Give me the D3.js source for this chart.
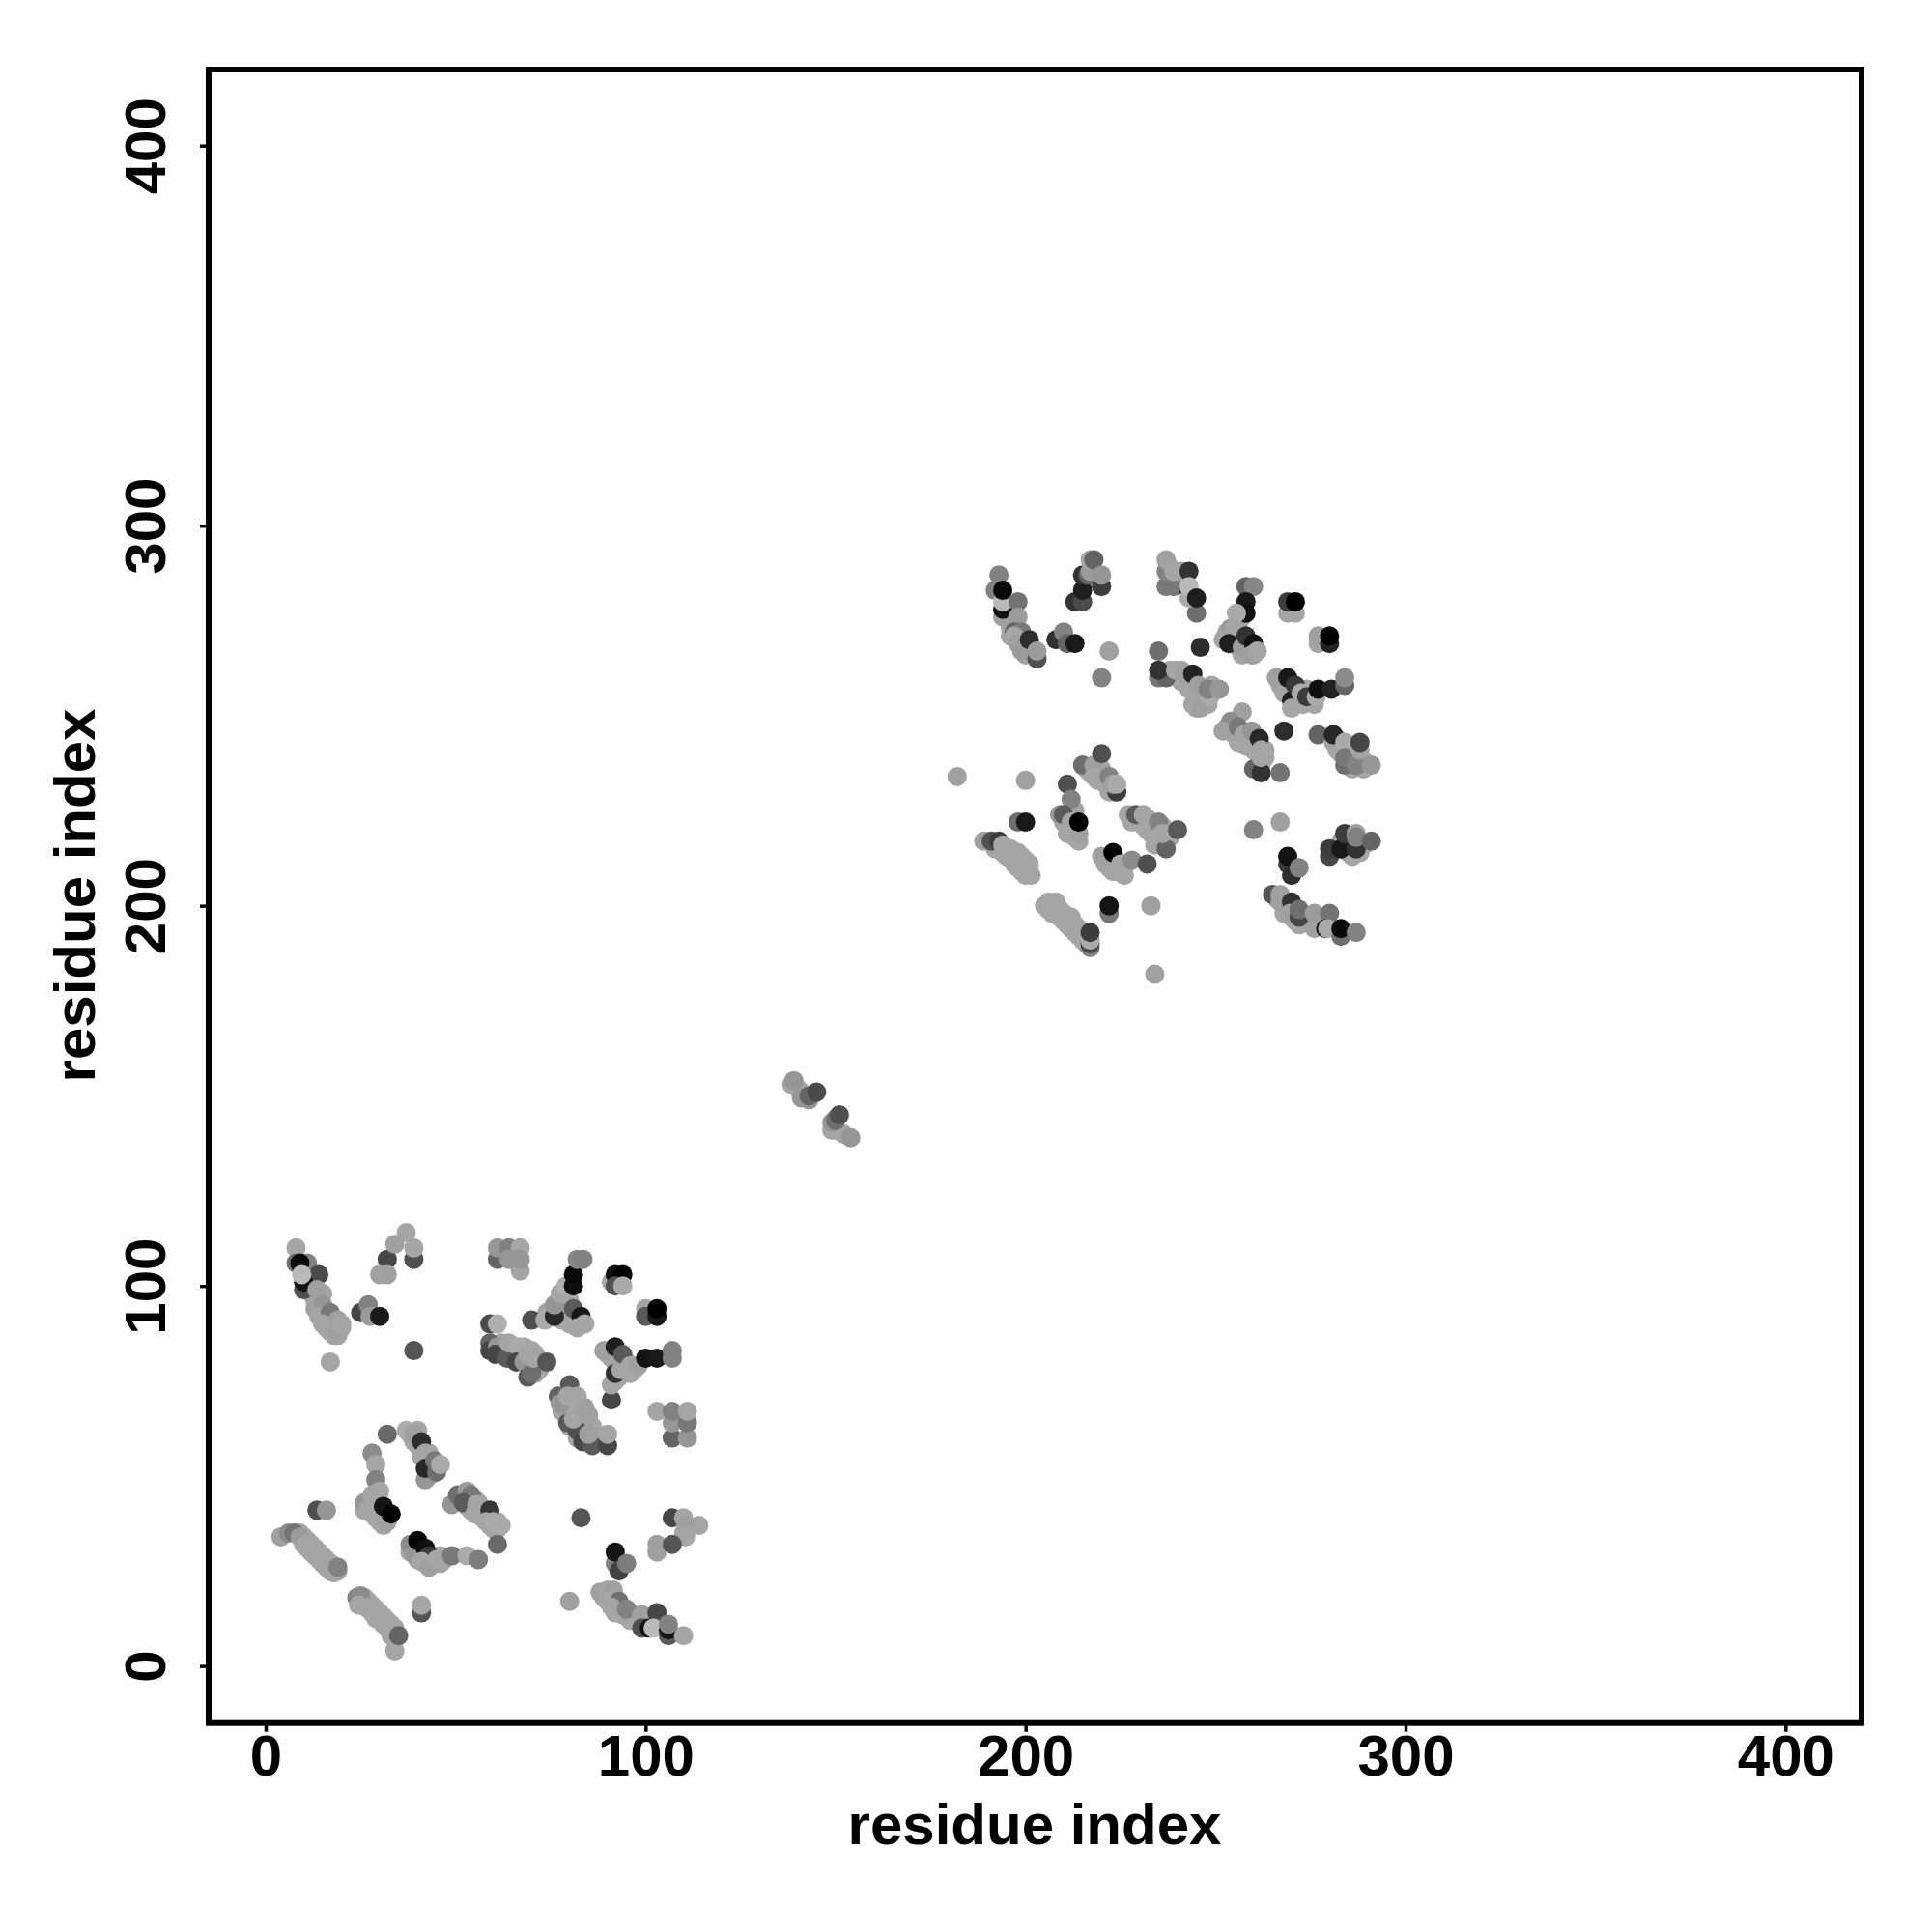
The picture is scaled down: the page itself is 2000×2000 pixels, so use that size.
<!DOCTYPE html>
<html><head><meta charset="utf-8">
<script src="https://cdnjs.cloudflare.com/ajax/libs/d3/7.8.5/d3.min.js"></script>
<style>html,body{margin:0;padding:0;background:#fff}svg{display:block}</style></head>
<body><svg id="c" width="2000" height="2000"></svg>
<script>
// rows: [residue i, residue j, grey level]
const domainX=[-15,420], domainY=[-15,420];
const tickValues=[0,100,200,300,400];
const axisLabel="residue index";
const bandGrey=165;
// pale contacts that merge into solid bands: [residue i, residue j]
const paleLow=[[9,35],[10,34],[11,33],[10,32],[12,32],[11,31],[13,31],[12,30],[14,30],[13,29],[15,29],[14,28],[16,28],[15,27],[17,27],[16,26],[18,26],[17,25],[18,24.5],
[25,17],[26,18],[26,16],[27,17],[27,15],[28,16],[28,14],[29,15],[29,13],[30,14],[30,12],[31,13],[31,11],[32,12],[32,10],[33,11],[33,8],[34,10],[34,7],
[26,41],[27,43],[28,43],[28,40],[29,41],[30,40],[30,38],[31,39],[31,37],[28,42],[29,44],
[38,61],[39,59],[40,60],[40,58],[41,57],[41,55],[43,56],[43,54],[42,54],[44,52],[43,50],[40,62],
[51,44],[52,45],[53,42],[54,43],[54,41],[55,44],[56,41],[56,43],[57,39],[57,41],[58,40],[59,39],[59,37],[60,36],[61,38],[61,36],
[38,30],[39,31],[40,29],[40,28],[41,30],[42,27],[42,29],[44,27],[44,29],[46,27],[46,29],[47,28],
[89,18],[90,18],[91,18],[92,18],[92,16],[92,14],[93,15],[94,15],[95,13],[96,14],[96,12],[97,13],[100,13],[100,12],[98,12],
[13,96],[14,94],[15,93],[16,92],[16,91],[17,90],[17,88],[18,89],[18,87],[19,87],[16,89],[20,89],[12,98],[14,97],[15,98],[12,99],
[111,36],[110,35],[141,151],[140,152],[150,141],[152,140],[149,141],[138.5,153]];
const paleMid=[[78,70],[79,68],[80,69],[78,67],[80,67],[81,68],[79,66],[81,66],[82,67],[80,63],[82,65],[83,66],[81,63],[83,64],[84,65],[82,60],[84,63],[85,64],[83,61],[85,62],[86,63],[84,60],[86,60],[85,59],[87,60],
[60,84],[62,85],[62,83],[63,84],[63,82],[65,84],[65,82],[66,83],[67,83],[67,81],[68,84],[68,82],[69,83],[69,79],[70,79],[71,79],[70,83],[71,82],[72,80],[72,78],[71,77],
[75,92],[74,93],[77,94],[77,96],[78,97],[78,95],[79,94],[79,98],[80,96],[80,92],[81,91],[82,92],[83,90],[80,90],[79,92],[78,91],
[90,82],[91,81],[92,80],[92,82],[93,80],[94,80],[95,78],[95,80],[94,77],[93,76],[92,75],[96,77],[97,78],[91,101]];
const paleHigh=[[192,215],[193,216],[194,214],[195,215],[195,213],[196,215],[197,213],[197,211],[198,214],[199,211],[199,213],[200,210],[200,208],[201,211],[199,209],[198,210],
[205,200],[206,199],[207,200],[207,198],[208,199],[209,197],[210,198],[210,196],[211,197],[211,195],[212,196],[212,194],[213,195],[213,193],[214,194],[214,192],[215,193],[215,191],[216,192],[216,190],
[216,236],[217,235],[219,235],[219,233],[220,236],[220,234],[221,232],[222,232],[223,230],[222,230],[210,222],[211,221],[211,219],[212,220],[213,220],[213,218],[214,217],[212,225],[213,225],
[227,224],[228,222],[230,222],[231,221],[232,223],[232,220],[233,219],[234,218],[235,220],[234,216],[236,221],[238,218],
[221,211],[222,212],[222,210],[223,211],[223,209],[224,212],[226,210],[226,208],
[238,262],[240,260],[241,262],[241,259],[242,259],[243,259],[243,257],[244,257],[245,255],[246,255],[244,253],[245,252],[247,256],[247,253],[249,258],[248,253],
[253,247],[254,246],[255,248],[255,245],[256,245],[256,243],[257,243],[258,244],[258,242],[259,242],[260,243],[260,241],[261,240],[261,242],[263,239],[263,241],[262,237]];
const paleTop=[[196,271],[198,270],[199,270],[200,268],[201,268],[200,266],[202,266],[196,273],[195,277],[196,275],
[253,272],[254,270],[255,271],[255,269],[256,268],[257,266],[258,267],[259,268],[257,270],[256,274],[257,276],[256,272],[260,266],
[267,258],[268,256],[268,258],[269,256],[270,256],[271,254],[272,254],[273,253],[273,255],[275,254],[274,257],[276,253],[270,258],
[282,241],[283,240],[285,241],[286,239],[285,237],[286,236],[288,237],[289,238],[289,236],[282,244],
[238,286],[238,289],[240,286],[241,285],[218,286],
[266,202],[268,200],[269,200],[268,198],[270,199],[270,197],[271,196],[272,195],[273,197],[271,199],
[285,216],[285,214],[286,213],[288,214],[288,216],[283,217],[286,218],[289,216]];
const strandA=[[8,110,165],[8,106,110],[11,106,130],[9,106,10],[14,103,75],[10,99,80],[10,101,20],[9.5,103,185],[13.5,99,160],[13,94,160],[15,95,150],[14,92,165],[17,93,120],[15,90,165],[19,88,160],[19,91,160],[20,90,165],[17,80,165],[25,93,70],[27,95,130],[27.5,92,155],[30,92,25],[39,83,85]];
const strandB=[[39,107,80],[32,107,70],[37,114,165],[34,111,160],[39,110,165],[30,103,160],[32,103,160]];
const strandC=[[61,107,100],[61,110,150],[64,110,130],[67,110,165],[67,104,165],[64,107,150],[67,107,150]];
const strandD=[[59,90,75],[61,90,175],[59,85,100],[59,83,70],[61,84,150],[60.5,82,70],[63.5,81,90],[64,85,165],[66.5,84,170],[66,80,70],[68,80,150],[69,76,90],[70,77,110],[69,82,165],[70.5,81,165],[74,80,85]];
const strandE=[[70,91,80],[73.5,91,170],[76,92,40],[76,95,150],[77.5,98,165],[79,100,175],[81,100,15],[81,103,10],[82,107,135],[83.5,107,130],[81,94,90],[83,92,25],[82,89,165],[84,90,165],[92,103,15],[94,103,0],[92,100,80],[94,100,170],[100,94,165],[100,92,90],[103,92,25],[103,94,0]];
const strandF=[[91,70,70],[91,74,165],[92,77,50],[93.5,78,165],[89,83,160],[92,84,30],[94,82,90],[96,79,165],[98,79,160],[100,81,20],[103,81,25],[107,83,130],[107,81,130]];
const strandG=[[80,74,90],[77,71,100],[77.5,69,150],[79.5,71,165],[82,71,165],[79.5,64,90],[82,62,80],[83.5,59,70],[86,58,90],[81,65,165],[84,68,160],[85,66,160],[85,61,160],[90,58,70],[90,61,165],[107,60,100],[111,60,150],[107,64,150],[111,64,120],[103,67,165],[107,67,130],[111,67,165]];
const strandH=[[13.5,41,80],[16,41,150],[4,34,160],[6,35,140],[7.5,35,115],[9,34,155],[10.5,32,165],[12,30,165],[14,29,165],[15,27,165],[17,25,165],[19,25,165],[19,26,130]];
const strandI=[[24,18,130],[25,18.5,140],[24.5,16,165],[27,15.5,165],[29.5,14,165],[29,12.5,165],[31,11,165],[34,4,165],[33,9,165],[34,9,165],[35,8,100],[41,14,85],[41,16,165]];
const strandJ=[[32,61,105],[28,56,140],[29,53,165],[29,49,130],[26,43,150],[28,45,165],[30,46,165],[27,41,165],[29,39,165],[32,38,160],[31,42,20],[33,40,0]];
const strandK=[[37,62,170],[39,61,160],[41,59,45],[42,56,165],[42,49,150],[42,52,40],[44.5,54,120],[45,51,110],[46,53,170]];
const strandL=[[49,42.5,150],[50.5,45,110],[53,46,155],[54,45,120],[52,43,90],[55.5,42.5,165],[55,40,165],[59,41,55],[58,38,165],[60,38,170],[62,37,170],[61,32,105]];
const strandM=[[38,32,140],[39,29.5,150],[40,33,5],[42,31,15],[43,29,60],[41,27.5,165],[43,26,160],[45,28,165],[49,29,120],[53,29,170],[56,28,125]];
const strandN=[[83,39,85],[107,39,70],[110,39,165],[114,37,165],[110.5,37,160],[110.5,34,165],[103,30,160],[103,32,160],[107,32,85],[92,27,130],[93,25,65],[92,30,20],[95,27,125]];
const strandO=[[80,17,160],[88,19.4,160],[90,20,165],[91.5,20,160],[90,17,165],[93,17,110],[91,15.5,165],[94,13.5,165],[95,15,130],[99,13.5,160],[103,14,70],[99,10,80],[101,10,15],[102,10,185],[106,8,90],[106,9.5,20],[106,11,130],[110,8,165]];
const strandP=[[139,154,150],[141,149.5,150],[143,149,150],[143,150,100],[145,151,75],[149,143,150],[154,139,150],[150,144,140],[150,143.5,110],[151,145,80]];
const strandQ=[[193,287,130],[192,283,130],[194,276,160],[194,278,20],[194,280,185],[194,283,10],[198,280,115],[198,276,155],[197,272,100],[199,272,120],[197,271,165],[198,269,160],[199,267,155],[201,270,45],[203,265,80],[203,267,155],[208,270,50],[210,272,130],[211,269,100],[213,269,25],[222,267,160],[220,260,130]];
const strandR=[[213,280,50],[215,280,75],[215,283,30],[220,284,60],[215,287,50],[216.5,287,100],[217,288,155],[217,291,165],[218,291,100],[220,287,150]];
const strandS=[[237,284,120],[239,284,120],[237,288,130],[237,291,160],[239,288,165],[241,288,165],[243,288,50],[245,277,110],[243,283,20],[243,281,170],[243,284,185],[245,281,30],[235,267,110],[246,268,45]];
const strandT=[[258,284,100],[260,284,135],[258,280,25],[258,277,15],[255.5,277,170],[254,273,150],[255,273,165],[252,270,165],[253.5,269,30],[257,268,155],[258,271,50],[260,269,20],[259.5,266,160],[261,267,165],[269,277,165],[271,277,165],[269,280,60],[271,280,0],[277,269,165],[277,271,160],[280,269,35],[280,271,0]];
const strandU=[[266,260,160],[270,254,30],[270,252,165],[269,260,25],[271,258,55],[272.5,256,170],[274,255,60],[276.5,255,170],[277,257,15],[280.5,257,35],[284,258,100],[284,260,140]];
const strandV=[[235,260,120],[237,260,100],[235,262,50],[239.5,262,165],[242,261,160],[244,261,35],[245.5,258,160],[246,252,160],[248.5,255,170],[248,257,130],[251,257,150]];
const strandW=[[257,251,160],[254,248.5,140],[252,246,160],[256,247,120],[257.5,245,165],[259.5,246,150],[261.5,244,40],[260,236,100],[262,235,50],[262,239,165],[262,241,165],[267,235,115],[268,246,45],[277,245,100],[281,243,165],[281,245,40],[284,243,170],[284,237,110],[284,239,120],[287,237,110],[287,237,130],[288,241,165],[288,243,70],[291,237,150]];
const strandX=[[182,234,160],[200,233,160],[215,237,110],[218,237,160],[220,240,80],[218,234,165],[222,234,130],[224,230,60],[223,232,160],[224,232,170],[211,232,80],[212,228,130],[209,224,150],[210,224,90],[212,219,165],[214,219,160],[212,222,165],[214,222,0],[198,222,110],[200,222,25]];
const strandY=[[229,224,90],[231,224,165],[233,221,165],[235,222,130],[237,215,100],[236,219,165],[240,220,90],[260,220,130],[267,222,160]];
const strandZ=[[189,217,160],[191,217,80],[193,217,60],[194,216,165],[196,214,165],[198,212,165],[200,212,165],[201,209,165],[201.5,208,165],[220,213,160],[223,214,0],[224,209,165],[225,211,165],[228,212,140],[232,211,80]];
const strandAA=[[269,211,60],[269,213,20],[270,208,45],[272,210,130],[280,213,70],[280,215,60],[283,215,25],[284,219,60],[287,215,50],[287,219,160],[287,218,130],[291,217,100]];
const strandAB=[[265,203,85],[267,203,160],[267,201,160],[270,201,50],[269.5,198,160],[272,197,70],[272,199,110],[276,194,160],[276,198,155],[280,198,115],[279,194,20],[279.5,194,170],[283,192,110],[283,194,10],[287,193,130]];
const strandAC=[[206,201,165],[208,201,165],[209,199,165],[212,197,165],[214,193,165],[217,189,130],[217,190,70],[217,191,170],[217,193,60],[222,198,120],[222,200,20],[233,200,160],[234,182,160]];

const points=[paleLow,paleMid,paleHigh,paleTop,strandA,strandB,strandC,strandD,strandE,strandF,strandG,strandH,strandI,strandJ,strandK,strandL,strandM,strandN,strandO,strandP,strandQ,strandR,strandS,strandT,strandU,strandV,strandW,strandX,strandY,strandZ,strandAA,strandAB,strandAC].flat();

const plot={l:216,r:1927,t:72,b:1783.7};
const x=d3.scaleLinear().domain(domainX).range([plot.l,plot.r]);
const y=d3.scaleLinear().domain(domainY).range([plot.b,plot.t]);
const grey=d3.scaleLinear().domain([0,255]).range(["#000000","#ffffff"]);
const FONT='"Liberation Sans",Arial,sans-serif';
const svg=d3.select("#c");
svg.append("g").selectAll("circle").data(points).join("circle")
 .attr("cx",d=>x(d[0])).attr("cy",d=>y(d[1])).attr("r",10).attr("fill",d=>grey(d[2]??bandGrey));
svg.append("rect").attr("x",plot.l).attr("y",plot.t).attr("width",plot.r-plot.l).attr("height",plot.b-plot.t)
 .attr("fill","none").attr("stroke","#000").attr("stroke-width",6);
const ax=svg.append("g").attr("transform",`translate(0,${plot.b})`)
 .call(d3.axisBottom(x).tickValues(tickValues).tickSize(9).tickPadding(3).tickFormat(d3.format("d")));
const ay=svg.append("g").attr("transform",`translate(${plot.l},0)`)
 .call(d3.axisLeft(y).tickValues(tickValues).tickSize(9).tickFormat(d3.format("d")));
[ax,ay].forEach(g=>{g.select(".domain").remove();
 g.selectAll(".tick line").attr("stroke","#000").attr("stroke-width",3.5);
 g.selectAll("text").attr("font-family",FONT).attr("font-weight","bold").attr("font-size",60).attr("fill","#000");});
ay.selectAll(".tick text").attr("x",null).attr("y",null).attr("dy",null)
 .attr("text-anchor","middle").attr("transform","translate(-45,0) rotate(-90)");
svg.append("text").attr("x",1071).attr("y",1909).attr("text-anchor","middle").attr("font-family",FONT).attr("font-weight","bold").attr("font-size",60).text(axisLabel);
svg.append("text").attr("transform","translate(98,927) rotate(-90)").attr("text-anchor","middle").attr("font-family",FONT).attr("font-weight","bold").attr("font-size",60).text(axisLabel);
</script></body></html>
